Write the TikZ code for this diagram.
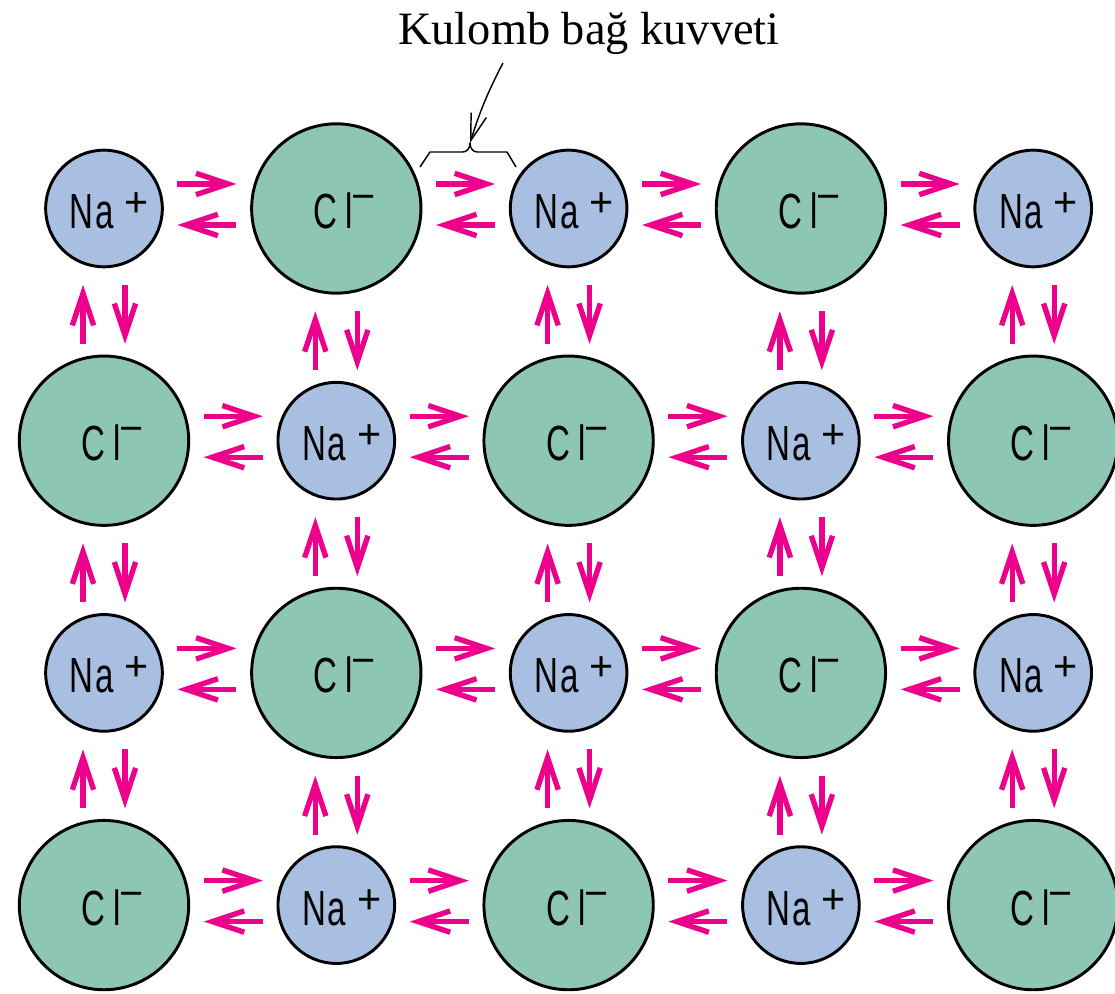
\documentclass[tikz,border=0pt]{standalone}
\usepackage{fontspec}
\setmainfont{Liberation Serif}
\newfontfamily\ionfont[FakeStretch=0.67]{Liberation Sans}
\newfontfamily\supfont{Liberation Sans}
\usetikzlibrary{arrows.meta,calc}

\definecolor{naionfill}{HTML}{A8BFE1}
\definecolor{clionfill}{HTML}{8DC6B5}
\definecolor{forcecol}{HTML}{EC008C}

% ion labels: condensed letters with a full-size charge sign
\newcommand{\NaLabel}{\hspace{8pt}{\ionfont\fontsize{37pt}{37pt}\selectfont N\kern1.5pt a}\kern8pt\raisebox{9pt}{\supfont\fontsize{31pt}{31pt}\selectfont +}}
\newcommand{\ClLabel}{\hspace{13pt}{\ionfont\fontsize{37pt}{37pt}\selectfont C\kern6pt l}\kern-0.9pt\raisebox{13.5pt}{\supfont\fontsize{31pt}{31pt}\selectfont −}}

\tikzset{
  ion/.style={circle, draw=black, line width=2.2pt, inner sep=0pt, outer sep=0pt,
    text height=30pt, text depth=0pt},
  na/.style={ion, fill=naionfill, minimum size=87.5pt},
  cl/.style={ion, fill=clionfill, minimum size=127pt},
  force/.style={draw=forcecol, line width=4pt, -{Straight Barb[length=24pt,width=16pt]}},
  pointer/.style={draw=black, line width=1.1pt, -{Straight Barb[length=20pt,width=12pt]}},
  bracket/.style={draw=black, line width=1.1pt, line join=round}
}

\begin{document}
\begin{tikzpicture}[x=0.75pt, y=-0.75pt]
\useasboundingbox (0,0) rectangle (1115,994);
\clip (0,0) rectangle (1115,994);

% lattice of ions
\foreach \r in {0,...,3} {
  \foreach \c in {0,...,4} {
    \pgfmathtruncatemacro{\kind}{mod(\r+\c,2)}
    \ifnum\kind=0
      \node[na] (n-\r-\c) at (104+232.3*\c, 208.5+232.2*\r) {\NaLabel};
    \else
      \node[cl] (n-\r-\c) at (104+232.3*\c, 208.5+232.2*\r) {\ClLabel};
    \fi
  }
}

% horizontal attraction pairs
\foreach \r in {0,...,3} {
  \foreach \c in {0,...,3} {
    \pgfmathtruncatemacro{\cn}{\c+1}
    \coordinate (h-\r-\c) at ($(n-\r-\c.east)!0.5!(n-\r-\cn.west)$);
    \draw[force] ($(h-\r-\c)+(-29.5,-24.5)$) -- ($(h-\r-\c)+(29.5,-24.5)$);
    \draw[force] ($(h-\r-\c)+(29.5,16.5)$) -- ($(h-\r-\c)+(-29.5,16.5)$);
  }
}

% vertical attraction pairs
\foreach \r in {0,...,2} {
  \foreach \c in {0,...,4} {
    \pgfmathtruncatemacro{\rn}{\r+1}
    \coordinate (v-\r-\c) at ($(n-\r-\c.south)!0.5!(n-\rn-\c.north)$);
    \draw[force] ($(v-\r-\c)+(-21,32.5)$) -- ($(v-\r-\c)+(-21,-26.5)$);
    \draw[force] ($(v-\r-\c)+(21,-26.5)$) -- ($(v-\r-\c)+(21,32.5)$);
  }
}

% caption with pointer to the bracketed gap
\node[font=\fontsize{34.8pt}{40pt}\selectfont, anchor=base, inner sep=0pt] (kulomb) at (589,45) {Kulomb bağ kuvveti};
\coordinate (pointerstart) at (503,63);
\coordinate (bracetip) at (470,143);
\draw[bracket] (420,167) -- (430,152) -- (463,152)
  .. controls (467,152) and (470,148) .. (bracetip)
  .. controls (470,148) and (473,152) .. (477,152) -- (507,152) -- (516,167);
\draw[pointer] (pointerstart) to[bend right=5] (bracetip);
\end{tikzpicture}
\end{document}
